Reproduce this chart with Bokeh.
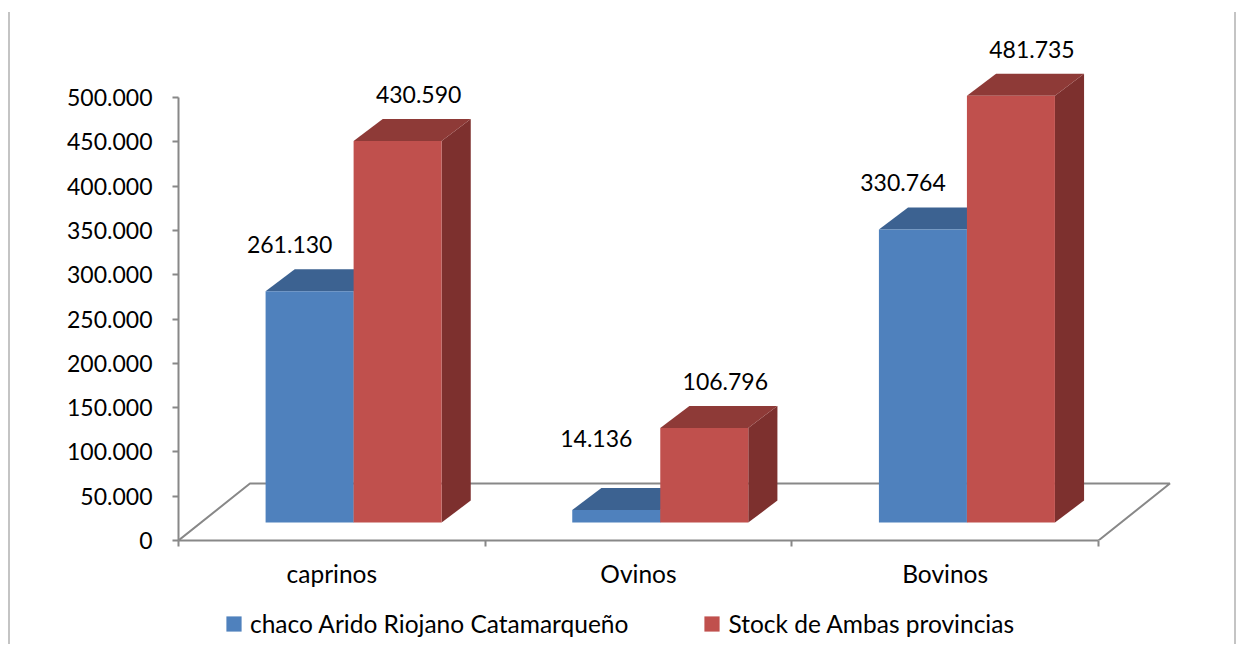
from bokeh.plotting import figure
from bokeh.layouts import column
from bokeh.models import FixedTicker, Legend, LegendItem
from bokeh.core.properties import value
from bokeh.embed import file_html
from bokeh.resources import INLINE

# ---------------- data ----------------
categories = ["caprinos", "Ovinos", "Bovinos"]
series_names = ["chaco Arido Riojano Catamarqueño", "Stock de Ambas provincias"]
chaco = [261130, 14136, 330764]
stock = [430590, 106796, 481735]
y_ticks = [0, 50000, 100000, 150000, 200000, 250000, 300000, 350000, 400000, 450000, 500000]
y_tick_labels = ["0", "50.000", "100.000", "150.000", "200.000", "250.000",
                 "300.000", "350.000", "400.000", "450.000", "500.000"]


def fmt(v):
    return f"{v:,}".replace(",", ".")


FONT = "Lato"
FS_NUM = "23px"
FS_TXT = "24.5px"
AXIS_GREY = "#888888"

front_cols = ["#4F81BD", "#C0504D"]
top_cols = ["#3C6291", "#8E3A37"]
side_cols = ["#335580", "#7D302E"]

# 3-D geometry (in data units)
W = 0.287      # bar width (category units)
J = 0.071      # shift of the joint between the two bars from the category centre
BASE = 20300   # front-face base (value units)
DX = 0.0950    # depth offset of a bar, x
DY = 24800     # depth offset of a bar, y
FDX = 0.233    # floor depth, x
FDY = 64300    # floor depth, y

WIDTH = 1236
p = figure(width=WIDTH, height=590, x_range=(0, 3.2707), y_range=(0, 598200),
           output_backend="svg", toolbar_location=None,
           min_border_left=178, min_border_right=55, min_border_top=10,
           min_border_bottom=50)
p.outline_line_color = None
p.grid.visible = False
p.background_fill_color = "white"
p.border_fill_color = None

# floor
n = len(categories)
p.line(x=[0, FDX, n + FDX, n], y=[0, FDY, FDY, 0], line_color=AXIS_GREY, line_width=2)

for s, vals in enumerate([chaco, stock]):
    lefts, rights, tops = [], [], []
    top_xs, top_ys, side_xs, side_ys = [], [], [], []
    for i, v in enumerate(vals):
        x0 = i + 0.5 + J - W + s * W
        x1 = x0 + W
        t = BASE + v
        lefts.append(x0)
        rights.append(x1)
        tops.append(t)
        top_xs.append([x0, x1, x1 + DX, x0 + DX])
        top_ys.append([t, t, t + DY, t + DY])
        side_xs.append([x1, x1, x1 + DX, x1 + DX])
        side_ys.append([BASE, t, t + DY, BASE + DY])
    p.patches(side_xs, side_ys, fill_color=side_cols[s], line_color=None)
    p.patches(top_xs, top_ys, fill_color=top_cols[s], line_color=None)
    p.quad(left=lefts, right=rights, bottom=BASE, top=tops,
           fill_color=front_cols[s], line_color=None)

# data labels
lx, ly, lt = [], [], []
for s, vals in enumerate([chaco, stock]):
    for i, v in enumerate(vals):
        c = i + 0.5 + J - W / 2 + s * W
        lx.append(c + (-0.065 if s == 0 else 0.0685))
        ly.append(max(v, 42000) + 73000)
        lt.append(fmt(v))
p.text(x=lx, y=ly, text=lt, text_align="center", text_baseline="middle",
       text_font=value(FONT), text_font_size=value(FS_NUM), text_color="black")

# y axis
ya = p.yaxis[0]
ya.ticker = FixedTicker(ticks=y_ticks, minor_ticks=[])
ya.major_label_overrides = {t: l for t, l in zip(y_ticks, y_tick_labels)}
ya.bounds = (y_ticks[0], y_ticks[-1])
ya.axis_line_color = AXIS_GREY
ya.axis_line_width = 2
ya.major_tick_line_color = AXIS_GREY
ya.major_tick_line_width = 2
ya.major_tick_out = 6
ya.major_tick_in = 0
ya.minor_tick_line_color = None
ya.major_label_standoff = 20
ya.major_label_text_font = FONT
ya.major_label_text_font_size = FS_NUM
ya.major_label_text_color = "black"

# x axis
centers = [i + 0.5 for i in range(n)]
xa = p.xaxis[0]
xa.ticker = FixedTicker(ticks=centers, minor_ticks=list(range(n + 1)))
xa.major_label_overrides = {c: lab for c, lab in zip(centers, categories)}
xa.bounds = (0, n)
xa.axis_line_color = AXIS_GREY
xa.axis_line_width = 2
xa.major_tick_line_color = None
xa.major_tick_out = 0
xa.major_tick_in = 0
xa.minor_tick_line_color = AXIS_GREY
xa.minor_tick_line_width = 2
xa.minor_tick_out = 6
xa.minor_tick_in = 0
xa.major_label_standoff = 12
xa.major_label_text_font = FONT
xa.major_label_text_font_size = FS_TXT
xa.major_label_text_color = "black"

# legend strip (separate small figure below the chart; its frame aligns with the chart's)
q = figure(width=WIDTH, height=54, x_range=(0, 1), y_range=(0, 1),
           output_backend="svg", toolbar_location=None,
           x_axis_location=None, y_axis_location=None,
           min_border_left=178, min_border_right=55, min_border_top=0,
           min_border_bottom=0)
q.outline_line_color = None
q.grid.visible = False
q.background_fill_color = None
q.border_fill_color = None
leg_r = [q.quad(left=[0], right=[0], bottom=[0], top=[0], fill_color=front_cols[s],
                line_color=None) for s in range(2)]
legend = Legend(items=[LegendItem(label=series_names[s], renderers=[leg_r[s]]) for s in range(2)],
                location=(46, 6), orientation="horizontal",
                glyph_width=19, glyph_height=19, label_standoff=7, spacing=74,
                padding=0, margin=0, border_line_color=None,
                background_fill_alpha=0,
                label_text_font=FONT, label_text_font_size=FS_TXT,
                label_text_color="black")
q.add_layout(legend)

layout = column(p, q, spacing=0)
layout.styles = {
    "background-image": "linear-gradient(#c4c4c4, #c4c4c4), linear-gradient(#c4c4c4, #c4c4c4)",
    "background-size": "2px 640px, 2px 640px",
    "background-position": "8px 12px, 1234px 12px",
    "background-repeat": "no-repeat",
}
open("out.html", "w").write(file_html(layout, INLINE))
